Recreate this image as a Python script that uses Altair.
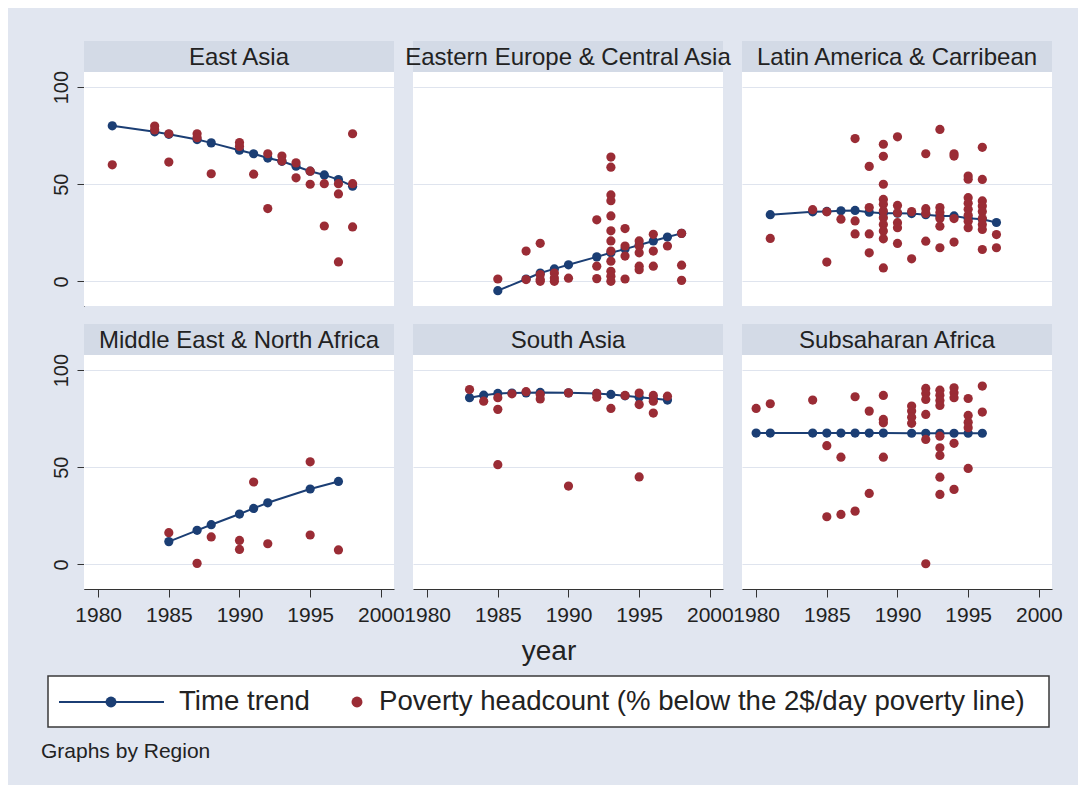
import altair as alt
import pandas as pd

FONT = "Liberation Sans"
BLUE = "#1b3e74"
RED = "#9a2c35"
BG = "#e1e6f0"
HDR = "#d3dae6"
GRID = "#dfe4ee"
INK = "#222222"

regions = ["East Asia", "Eastern Europe & Central Asia", "Latin America & Carribean",
           "Middle East & North Africa", "South Asia", "Subsaharan Africa"]
legend_labels = ["Time trend", "Poverty headcount (% below the 2$/day poverty line)"]
x_ticks = [1980, 1985, 1990, 1995, 2000]
y_ticks = [0, 50, 100]

# East Asia
ea_obs_year = [1981, 1984, 1984, 1985, 1985, 1987, 1987, 1988, 1990, 1990, 1991, 1992, 1992,
               1993, 1993, 1994, 1994, 1995, 1995, 1996, 1996, 1997, 1997, 1997, 1998, 1998, 1998]
ea_obs_val = [60, 80, 78, 76, 61.4, 76, 74, 55.4, 71.5, 69.5, 55.2, 65.7, 37.5,
              64.5, 62, 61, 53.3, 56.7, 50, 50.3, 28.5, 50.3, 45, 10, 76, 50.3, 28]
ea_tr_year = [1981, 1984, 1985, 1987, 1988, 1990, 1991, 1992, 1993, 1994, 1995, 1996, 1997, 1998]
ea_tr_val = [80.1, 77, 75.7, 73, 71.3, 67.5, 65.7, 63.5, 61.8, 59.3, 56.7, 54.8, 52.4, 49]

# Eastern Europe & Central Asia
ee_obs_year = [1985, 1987, 1987, 1988, 1988, 1988, 1988, 1989, 1989, 1989, 1990,
               1992, 1992, 1992,
               1993, 1993, 1993, 1993, 1993, 1993, 1993, 1993, 1993, 1993, 1993, 1993,
               1994, 1994, 1994, 1994, 1995, 1995, 1995, 1995, 1995,
               1996, 1996, 1996, 1997, 1998, 1998, 1998]
ee_obs_val = [1.2, 15.6, 0.9, 19.6, 3.5, 0.9, 0, 4.3, 1.7, 0, 1.6,
              31.7, 7.8, 1.4,
              64, 58.8, 44.5, 41.5, 33.7, 26, 20.8, 15.6, 10.4, 5.2, 2.6, 0,
              27.2, 18.2, 13, 1.2, 20.8, 18.2, 14.7, 7.8, 6,
              24.2, 15.6, 7.8, 18.2, 24.7, 8.3, 0.5]
ee_tr_year = [1985, 1987, 1988, 1989, 1990, 1992, 1993, 1994, 1995, 1996, 1997, 1998]
ee_tr_val = [-4.8, 1.2, 4.3, 6.4, 8.5, 12.6, 14.7, 16.6, 18.7, 20.8, 22.8, 24.7]

# Latin America & Carribean
la_obs_year = [1981, 1984, 1985, 1985, 1986, 1987, 1987, 1987, 1988, 1988, 1988, 1988,
               1989, 1989, 1989, 1989, 1989, 1989, 1989, 1989, 1989, 1989, 1989,
               1990, 1990, 1990, 1990, 1990, 1990, 1991, 1991,
               1992, 1992, 1992, 1992, 1993, 1993, 1993, 1993, 1993, 1993,
               1994, 1994, 1994, 1994,
               1995, 1995, 1995, 1995, 1995, 1995, 1995, 1995,
               1996, 1996, 1996, 1996, 1996, 1996, 1996, 1996, 1996,
               1997, 1997]
la_obs_val = [22.1, 36.9, 35.8, 9.9, 32, 73.5, 31.1, 24.4, 59.2, 38, 24.4, 14.7,
              70.6, 64.4, 50, 42.2, 39.7, 36.2, 32.8, 29.3, 25.9, 21.9, 6.9,
              74.4, 39.1, 35.3, 30.2, 27.6, 19.5, 35.9, 11.6,
              65.7, 37.4, 35.0, 20.7, 78.2, 38, 35.4, 32.3, 28.4, 17.3,
              65.7, 64.5, 32.3, 20.2,
              54.2, 52.6, 43.1, 40.2, 37.1, 34, 31, 27.6,
              69, 52.5, 41.4, 38.8, 35.9, 32.3, 29.3, 26.7, 16.4,
              24.1, 17.3]
la_tr_year = [1981, 1984, 1985, 1986, 1987, 1988, 1989, 1990, 1991, 1992, 1993, 1994, 1995, 1996, 1997]
la_tr_val = [34.3, 35.8, 36.0, 36.3, 36.5, 35.6, 35.1, 35.1, 34.9, 34.3, 33.7, 33.7, 32.5, 32.0, 30.3]

# Middle East & North Africa
me_obs_year = [1985, 1987, 1988, 1990, 1990, 1991, 1992, 1995, 1995, 1997]
me_obs_val = [16.3, 0.5, 14.1, 12.3, 7.7, 42.4, 10.6, 52.8, 15.1, 7.4]
me_tr_year = [1985, 1987, 1988, 1990, 1991, 1992, 1995, 1997]
me_tr_val = [11.7, 17.5, 20.4, 25.9, 28.8, 31.7, 38.8, 42.7]

# South Asia
sa_obs_year = [1983, 1984, 1985, 1985, 1985, 1986, 1987, 1988, 1988, 1990, 1990,
               1992, 1992, 1993, 1994, 1995, 1995, 1995, 1996, 1996, 1996, 1997]
sa_obs_val = [90, 84, 85.8, 79.8, 51.3, 87.8, 88.9, 87.5, 85.2, 88.3, 40.3,
              88, 86.1, 80.3, 87, 88.2, 82.3, 45, 87, 84, 77.9, 86.6]
sa_tr_year = [1983, 1984, 1985, 1986, 1987, 1988, 1990, 1992, 1993, 1994, 1995, 1996, 1997]
sa_tr_val = [85.8, 87.1, 88.0, 88.2, 88.3, 88.5, 88.3, 88.0, 87.5, 86.8, 86.1, 85.4, 84.6]

# Subsaharan Africa
ss_obs_year = [1980, 1981, 1984, 1985, 1985, 1986, 1986, 1987, 1987, 1988, 1988,
               1989, 1989, 1989, 1989, 1991, 1991, 1991, 1991,
               1992, 1992, 1992, 1992, 1992, 1992,
               1993, 1993, 1993, 1993, 1993, 1993, 1993, 1993, 1993,
               1994, 1994, 1994, 1994, 1994, 1995, 1995, 1995, 1995, 1995, 1996, 1996]
ss_obs_val = [80.3, 82.7, 84.6, 61.1, 24.5, 55.2, 25.7, 86.3, 27.4, 78.9, 36.5,
              87, 74.6, 72.9, 55.2, 81.5, 78.9, 75.8, 72.6,
              90.6, 88, 84.9, 77.2, 64.3, 0.3,
              89.7, 87.1, 84.4, 81.8, 66, 60, 56.1, 44.9, 36,
              90.9, 88.4, 85.8, 62.3, 38.6, 85.4, 76.7, 73.2, 70.4, 49.4, 91.8, 78.4]
ss_tr_year = [1980, 1981, 1984, 1985, 1986, 1987, 1988, 1989, 1991, 1992, 1993, 1994, 1995, 1996]
ss_tr_val = [67.6, 67.6, 67.6, 67.6, 67.6, 67.6, 67.6, 67.6, 67.5, 67.5, 67.5, 67.5, 67.5, 67.5]

series = {
    regions[0]: (ea_obs_year, ea_obs_val, ea_tr_year, ea_tr_val),
    regions[1]: (ee_obs_year, ee_obs_val, ee_tr_year, ee_tr_val),
    regions[2]: (la_obs_year, la_obs_val, la_tr_year, la_tr_val),
    regions[3]: (me_obs_year, me_obs_val, me_tr_year, me_tr_val),
    regions[4]: (sa_obs_year, sa_obs_val, sa_tr_year, sa_tr_val),
    regions[5]: (ss_obs_year, ss_obs_val, ss_tr_year, ss_tr_val),
}

rows = []
for i, (reg, (oy, ov, ty, tv)) in enumerate(series.items()):
    r, c = divmod(i, 3)
    for y, v in zip(oy, ov):
        rows.append({"region": reg, "r": r, "c": c, "year": y, "value": v, "kind": "obs"})
    for y, v in zip(ty, tv):
        rows.append({"region": reg, "r": r, "c": c, "year": y, "value": v, "kind": "trend"})
df = pd.DataFrame(rows)

W = 310      # panel width
HH = 31      # header strip height
H = 265      # header + plot height

xscale = alt.Scale(domain=[1979.0, 2000.93], nice=False, zero=False)
yscale = alt.Scale(domain=[-12.7, 107.8], range=[H, HH], nice=False, zero=False)

xaxis = alt.Axis(values=x_ticks, format="d", grid=False, title=None, tickSize=8,
                 labelPadding=7, labelFontSize=21, labelFlush=False,
                 labelOverlap=False, domainColor="#333333", tickColor="#333333")
yaxis = alt.Axis(values=y_ticks, grid=True, gridColor=GRID, gridWidth=1.2, title=None,
                 tickSize=7, labelAngle=270, labelAlign="center", labelBaseline="alphabetic",
                 labelPadding=10, labelFontSize=20, minExtent=43,
                 domainColor="#333333", tickColor="#333333")

base = alt.Chart()
agg = base.transform_aggregate(n="count()", groupby=["region"])

header_rect = agg.mark_rect(color=HDR).encode(
    x=alt.value(0), x2=alt.value(W), y=alt.value(0), y2=alt.value(HH))
header_text = agg.mark_text(fontSize=24, font=FONT, color=INK, baseline="middle").encode(
    text="region:N", x=alt.value(W / 2), y=alt.value(HH / 2 + 1))

trend = base.transform_filter(alt.datum.kind == "trend")
obs = base.transform_filter(alt.datum.kind == "obs")

enc = dict(x=alt.X("year:Q", scale=xscale, axis=xaxis),
           y=alt.Y("value:Q", scale=yscale, axis=yaxis))
trend_line = trend.mark_line(color=BLUE, strokeWidth=2).encode(**enc)
trend_pts = trend.mark_circle(color=BLUE, size=85, opacity=1).encode(**enc)
obs_pts = obs.mark_circle(color=RED, size=85, opacity=1).encode(**enc)

panel = alt.layer(header_rect, trend_line, trend_pts, obs_pts, header_text).properties(
    width=W, height=H)

facet = panel.facet(
    data=df,
    row=alt.Row("r:O", title=None, header=None),
    column=alt.Column("c:O", title=None, header=None),
    spacing={"row": 18, "column": 19},
    bounds="flush")

# bottom: axis title, legend box and note
one = pd.DataFrame({"k": [0]})
bb = alt.Chart(one)
ly = 74
year_title = bb.mark_text(text="year", fontSize=28, font=FONT, color=INK, align="center",
                          baseline="alphabetic").encode(x=alt.value(465), y=alt.value(32))
box = bb.mark_rect(fill="white", stroke="#3a3a3a", strokeWidth=1.5).encode(
    x=alt.value(-36), x2=alt.value(965), y=alt.value(48), y2=alt.value(99))
leg_line = bb.mark_rule(color=BLUE, strokeWidth=2).encode(
    x=alt.value(-25), x2=alt.value(80), y=alt.value(ly))
leg_bdot = bb.mark_circle(color=BLUE, size=120, opacity=1).encode(x=alt.value(27), y=alt.value(ly))
leg_t1 = bb.mark_text(text=legend_labels[0], fontSize=27.6, font=FONT, color=INK, align="left",
                      baseline="middle").encode(x=alt.value(95), y=alt.value(ly))
leg_rdot = bb.mark_circle(color=RED, size=120, opacity=1).encode(x=alt.value(273), y=alt.value(ly))
leg_t2 = bb.mark_text(text=legend_labels[1], fontSize=27.6, font=FONT, color=INK, align="left",
                      baseline="middle").encode(x=alt.value(295), y=alt.value(ly))
note = bb.mark_text(text="Graphs by Region", fontSize=21, font=FONT, color=INK, align="left",
                    baseline="alphabetic").encode(x=alt.value(-43), y=alt.value(130))

bottom = alt.layer(year_title, box, leg_line, leg_bdot, leg_t1, leg_rdot, leg_t2, note).properties(
    width=975, height=140, view=alt.ViewBackground(fill="transparent", stroke="transparent"))

chart = alt.vconcat(facet, bottom, spacing=2).properties(
    background=BG,
    padding={"top": 33, "left": 32, "right": 15, "bottom": 16},
).configure_view(fill="white", stroke=None).configure_axis(
    labelFont=FONT, labelColor=INK, titleFont=FONT
).configure_text(font=FONT)

chart.save("out.html", embed_options={"renderer": "svg", "actions": False})
